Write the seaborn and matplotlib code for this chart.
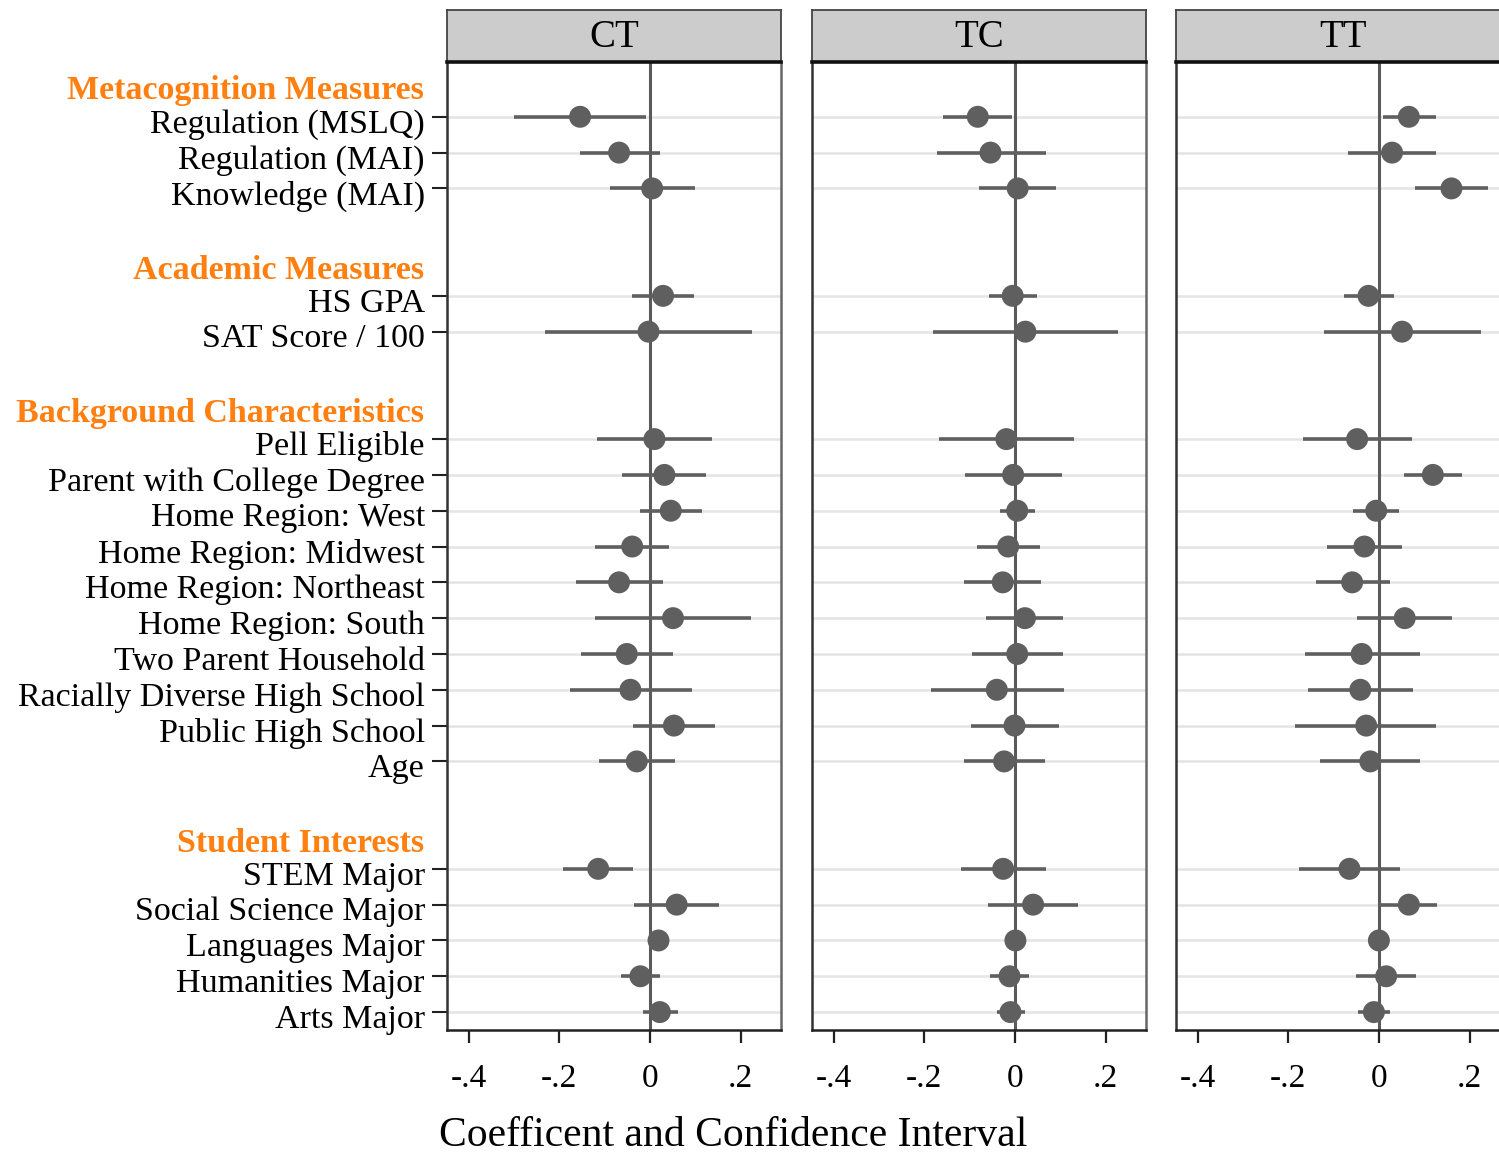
import matplotlib
matplotlib.use("Agg")
import matplotlib.pyplot as plt
import seaborn as sns
import pandas as pd
from matplotlib.transforms import blended_transform_factory, ScaledTranslation

# ---------------- data ----------------
groups = ["Metacognition Measures", "Academic Measures",
          "Background Characteristics", "Student Interests"]
group_sizes = [3, 2, 10, 5]
items = ["Regulation (MSLQ)", "Regulation (MAI)", "Knowledge (MAI)",
         "HS GPA", "SAT Score / 100",
         "Pell Eligible", "Parent with College Degree", "Home Region: West",
         "Home Region: Midwest", "Home Region: Northeast", "Home Region: South",
         "Two Parent Household", "Racially Diverse High School",
         "Public High School", "Age",
         "STEM Major", "Social Science Major", "Languages Major",
         "Humanities Major", "Arts Major"]
panels = ["CT", "TC", "TT"]

ct_est = [-0.154, -0.068, 0.005, 0.029, -0.003, 0.010, 0.032, 0.046, -0.039, -0.068,
          0.051, -0.051, -0.043, 0.053, -0.029, -0.114, 0.059, 0.019, -0.021, 0.022]
ct_lo = [-0.299, -0.154, -0.087, -0.040, -0.232, -0.117, -0.062, -0.022, -0.120, -0.164,
         -0.121, -0.153, -0.177, -0.037, -0.112, -0.191, -0.035, 0.011, -0.063, -0.016]
ct_hi = [-0.009, 0.022, 0.100, 0.098, 0.226, 0.138, 0.123, 0.115, 0.043, 0.030,
         0.223, 0.050, 0.093, 0.143, 0.056, -0.037, 0.153, 0.027, 0.022, 0.061]

tc_est = [-0.082, -0.054, 0.006, -0.005, 0.023, -0.019, -0.004, 0.005, -0.015, -0.027,
          0.022, 0.005, -0.040, -0.001, -0.024, -0.026, 0.040, 0.001, -0.012, -0.010]
tc_lo = [-0.159, -0.172, -0.079, -0.057, -0.180, -0.167, -0.110, -0.034, -0.084, -0.112,
         -0.063, -0.095, -0.186, -0.098, -0.112, -0.119, -0.060, -0.007, -0.054, -0.040]
tc_hi = [-0.007, 0.068, 0.091, 0.048, 0.228, 0.131, 0.103, 0.044, 0.056, 0.058,
         0.107, 0.107, 0.108, 0.098, 0.066, 0.068, 0.140, 0.009, 0.030, 0.023]

tt_est = [0.066, 0.029, 0.160, -0.023, 0.051, -0.048, 0.119, -0.006, -0.032, -0.059,
          0.057, -0.038, -0.041, -0.028, -0.019, -0.065, 0.066, 0.000, 0.016, -0.011]
tt_lo = [0.009, -0.068, 0.079, -0.077, -0.122, -0.168, 0.055, -0.057, -0.115, -0.139,
         -0.049, -0.162, -0.157, -0.184, -0.129, -0.176, 0.001, -0.008, -0.050, -0.045]
tt_hi = [0.125, 0.126, 0.240, 0.033, 0.226, 0.073, 0.183, 0.044, 0.051, 0.024,
         0.162, 0.090, 0.075, 0.127, 0.090, 0.046, 0.128, 0.008, 0.081, 0.024]

x_ticks = [-0.4, -0.2, 0.0, 0.2]
x_ticklabels = ["-.4", "-.2", "0", ".2"]
x_label = "Coefficent and Confidence Interval"

# ---------------- layout of rows ----------------
ypos, header_pos = [], []
cur = 0
for gi, n in enumerate(group_sizes):
    header_pos.append(cur - 0.93)
    ypos.extend(range(cur, cur + n))
    cur += n + 2

est = {"CT": ct_est, "TC": tc_est, "TT": tt_est}
lo = {"CT": ct_lo, "TC": tc_lo, "TT": tt_lo}
hi = {"CT": ct_hi, "TC": tc_hi, "TT": tt_hi}
rows = []
for p in panels:
    for i, it in enumerate(items):
        rows.append(dict(panel=p, item=it, y=ypos[i], est=est[p][i],
                         lo=lo[p][i], hi=hi[p][i]))
df = pd.DataFrame(rows)

# ---------------- style ----------------
sns.set_theme(style="white")
plt.rcParams["font.family"] = ["Liberation Serif", "DejaVu Serif"]
plt.rcParams["text.color"] = "black"
plt.rcParams["xtick.color"] = "black"
plt.rcParams["ytick.color"] = "black"

W, H = 1499, 1155
fig = plt.figure(figsize=(W / 100, H / 100), dpi=100)


def rect(x0, x1, y0, y1):
    return [x0 / W, 1 - y1 / H, (x1 - x0) / W, (y1 - y0) / H]


panel_x = [(447, 780.7), (812, 1145.8), (1176, 1509.7)]
ptop, pbot = 62, 1030
stop = 10
dark = "#5F5F5F"
orange = "#FF7F10"
label_fs = 24.5
shift_down = ScaledTranslation(0, -4 / 100, fig.dpi_scale_trans)

for k, p in enumerate(panels):
    x0, x1 = panel_x[k]
    ax = fig.add_axes(rect(x0, x1, ptop, pbot))
    sub = df[df.panel == p]
    for yv in sub.y:
        ax.axhline(yv, color="#E4E4E4", lw=1.8, zorder=0)
    ax.axvline(0, color="#5A5A5A", lw=2.2, zorder=1)
    ax.hlines(sub.y, sub.lo, sub.hi, color=dark, lw=2.6, zorder=2)
    sns.scatterplot(data=sub, x="est", y="y", s=250, color=dark,
                    edgecolor="none", linewidth=0, ax=ax, zorder=3, legend=False)
    ax.set_xlim(-0.4475, 0.2885)
    ax.set_ylim(25.5, -1.53)
    ax.set_xticks(x_ticks)
    ax.set_xticklabels(x_ticklabels, fontsize=24, color="black")
    ax.set_yticks(sub.y.tolist())
    ax.set_xlabel("")
    ax.set_ylabel("")
    ax.tick_params(axis="x", direction="out", length=9, width=1.6,
                   color="#222222", pad=15, bottom=True)
    if k == 0:
        ax.set_yticklabels(items, fontsize=label_fs, color="black")
        ax.tick_params(axis="y", direction="out", length=10.5, width=1.5,
                       color="#222222", pad=5.5, left=True)
        for lab in ax.get_yticklabels():
            lab.set_transform(lab.get_transform() + shift_down)
        tr = blended_transform_factory(ax.transAxes, ax.transData) + shift_down
        for g, hy in zip(groups, header_pos):
            ax.text(-0.0689, hy, g, transform=tr, ha="right",
                    va="center_baseline", fontsize=label_fs, fontweight="bold",
                    color=orange)
    else:
        ax.set_yticklabels([])
        ax.tick_params(axis="y", length=0)
    ax.grid(False)
    ax.spines["top"].set_visible(False)
    for s, c in [("left", "#333333"), ("right", "#666666"), ("bottom", "#222222")]:
        ax.spines[s].set_color(c)
        ax.spines[s].set_linewidth(1.8)

    sax = fig.add_axes(rect(x0, x1, stop, ptop))
    sax.set_facecolor("#CCCCCC")
    sax.set_xticks([])
    sax.set_yticks([])
    for s in ["top", "left", "right"]:
        sax.spines[s].set_color("#444444")
        sax.spines[s].set_linewidth(1.3)
    sax.spines["bottom"].set_color("#111111")
    sax.spines["bottom"].set_linewidth(2.6)
    sax.text(0.5, 0.47, p, ha="center", va="center", fontsize=28,
             color="black", transform=sax.transAxes)

fig.text(733 / W, 1 - 1136 / H, x_label, ha="center", va="center", fontsize=30,
         color="black")

fig.savefig("out.png", dpi=100)
